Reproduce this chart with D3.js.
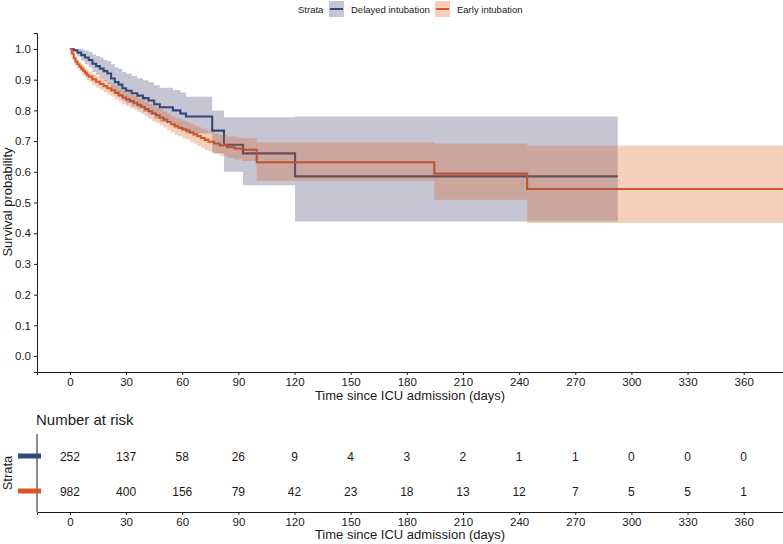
<!DOCTYPE html>
<html>
<head>
<meta charset="utf-8">
<script src="https://cdn.jsdelivr.net/npm/d3@7"></script>
<style>
  body { margin: 0; background: #fff; }
  svg text { font-family: "Liberation Sans", Arial, sans-serif; fill: #1a1a1a; }
</style>
</head>
<body>
<script>
// chart size
const W = 783, H = 544;

// strata
const strata = ['Delayed intubation', 'Early intubation'];
const lineColors = ['#2E4B7B', '#DF5228'];
const fillColors = ['#3E3E6C', '#DA5F20'];

// Kaplan-Meier step data, delayed intubation
const delayedTime = [0, 2, 4, 6, 8, 10, 12, 14, 16, 18, 20, 22, 24, 26, 28, 30, 33, 36, 39, 42, 45, 48, 55, 59, 62, 76, 82.3, 92.5, 120.3, 292.7];
const delayedSurv = [1.000, 0.996, 0.988, 0.980, 0.972, 0.964, 0.952, 0.944, 0.936, 0.928, 0.920, 0.904, 0.892, 0.884, 0.872, 0.864, 0.856, 0.848, 0.840, 0.832, 0.820, 0.810, 0.800, 0.790, 0.780, 0.734, 0.688, 0.660, 0.585, 0.585];
const delayedUpper = [1.000, 1.000, 1.000, 0.998, 0.995, 0.990, 0.982, 0.977, 0.972, 0.965, 0.960, 0.950, 0.940, 0.935, 0.925, 0.920, 0.912, 0.905, 0.898, 0.892, 0.882, 0.874, 0.866, 0.858, 0.844, 0.800, 0.778, 0.778, 0.780, 0.780];
const delayedLower = [1.000, 0.990, 0.975, 0.962, 0.950, 0.940, 0.925, 0.915, 0.905, 0.895, 0.885, 0.868, 0.855, 0.845, 0.832, 0.823, 0.813, 0.805, 0.795, 0.786, 0.772, 0.762, 0.750, 0.738, 0.725, 0.660, 0.600, 0.556, 0.438, 0.438];

// Kaplan-Meier step data, early intubation
const earlyTime = [0, 1, 2, 3, 4, 5, 6, 7, 8, 9, 10, 12, 14, 16, 18, 20, 22, 24, 26, 28, 30, 32, 34, 36, 38, 40, 42, 44, 46, 48, 50, 52, 54, 56, 58, 60, 62, 64, 66, 68, 70, 72, 74, 77, 80, 84, 88, 92, 99.8, 194.7, 244.3, 381];
const earlySurv = [1.000, 0.985, 0.970, 0.958, 0.950, 0.943, 0.936, 0.929, 0.922, 0.915, 0.910, 0.901, 0.893, 0.886, 0.879, 0.872, 0.865, 0.857, 0.849, 0.842, 0.836, 0.830, 0.825, 0.818, 0.812, 0.804, 0.797, 0.790, 0.784, 0.777, 0.770, 0.762, 0.755, 0.748, 0.743, 0.738, 0.734, 0.728, 0.722, 0.716, 0.710, 0.704, 0.698, 0.692, 0.686, 0.680, 0.676, 0.672, 0.631, 0.594, 0.544, 0.544];
const earlyUpper = [1.000, 0.993, 0.981, 0.970, 0.963, 0.957, 0.951, 0.945, 0.938, 0.932, 0.927, 0.919, 0.912, 0.905, 0.899, 0.892, 0.885, 0.878, 0.870, 0.864, 0.858, 0.852, 0.848, 0.841, 0.836, 0.828, 0.821, 0.815, 0.809, 0.803, 0.796, 0.789, 0.782, 0.776, 0.771, 0.767, 0.763, 0.758, 0.752, 0.747, 0.741, 0.736, 0.730, 0.725, 0.720, 0.715, 0.712, 0.709, 0.696, 0.692, 0.685, 0.685];
const earlyLower = [1.000, 0.977, 0.959, 0.946, 0.937, 0.929, 0.921, 0.913, 0.906, 0.898, 0.893, 0.883, 0.874, 0.867, 0.859, 0.852, 0.845, 0.836, 0.828, 0.820, 0.814, 0.808, 0.802, 0.795, 0.788, 0.780, 0.773, 0.765, 0.759, 0.751, 0.744, 0.735, 0.728, 0.720, 0.715, 0.709, 0.705, 0.698, 0.692, 0.685, 0.679, 0.672, 0.666, 0.659, 0.652, 0.645, 0.640, 0.635, 0.571, 0.509, 0.433, 0.433];

// axis ticks
const xTicks = [0, 30, 60, 90, 120, 150, 180, 210, 240, 270, 300, 330, 360];
const yTicks = [0.0, 0.1, 0.2, 0.3, 0.4, 0.5, 0.6, 0.7, 0.8, 0.9, 1.0];

// number at risk
const riskDelayed = [252, 137, 58, 26, 9, 4, 3, 2, 1, 1, 0, 0, 0];
const riskEarly = [982, 400, 156, 79, 42, 23, 18, 13, 12, 7, 5, 5, 1];

const svg = d3.select('body').append('svg')
  .attr('width', W)
  .attr('height', H);

// scales
const x = d3.scaleLinear().domain([-17.6, 381]).range([37, 783]);
const y = d3.scaleLinear().domain([-0.052, 1.052]).range([372, 33]);

function rows(t, s, u, l) {
  return t.map((d, i) => ({ t: d, s: s[i], u: u[i], l: l[i] }));
}
const groups = [
  rows(delayedTime, delayedSurv, delayedUpper, delayedLower),
  rows(earlyTime, earlySurv, earlyUpper, earlyLower)
];

const plot = svg.append('g');

// survival lines first, ribbons drawn on top (as in survminer)
const line = d3.line().x(d => x(d.t)).y(d => y(d.s)).curve(d3.curveStepAfter);
const area = d3.area().x(d => x(d.t)).y0(d => y(d.l)).y1(d => y(d.u)).curve(d3.curveStepAfter);

groups.forEach((g, i) => {
  plot.append('path')
    .attr('d', line(g))
    .attr('fill', 'none')
    .attr('stroke', lineColors[i])
    .attr('stroke-width', 2.1);
});
groups.forEach((g, i) => {
  plot.append('path')
    .attr('d', area(g))
    .attr('fill', fillColors[i])
    .attr('fill-opacity', 0.3);
});

// axes
const yAxis = svg.append('g')
  .attr('transform', 'translate(37,0)')
  .call(d3.axisLeft(y).tickValues(yTicks).tickFormat(d3.format('.1f')).tickSize(3).tickPadding(3));
const xAxis = svg.append('g')
  .attr('transform', 'translate(0,372)')
  .call(d3.axisBottom(x).tickValues(xTicks).tickSize(3).tickPadding(3));

[yAxis, xAxis].forEach(a => {
  a.select('.domain').attr('stroke', '#1a1a1a').attr('stroke-width', 1);
  a.selectAll('.tick line').attr('stroke', '#1a1a1a');
  a.selectAll('.tick text').attr('font-size', 11.5).attr('fill', '#1a1a1a');
});

svg.append('text')
  .attr('x', 410).attr('y', 400)
  .attr('text-anchor', 'middle')
  .attr('font-size', 13)
  .text('Time since ICU admission (days)');

svg.append('text')
  .attr('transform', 'translate(12,202) rotate(-90)')
  .attr('text-anchor', 'middle')
  .attr('font-size', 13)
  .text('Survival probability');

// legend
const legend = svg.append('g');
legend.append('text')
  .attr('x', 298).attr('y', 12.5)
  .attr('font-size', 9.5)
  .text('Strata');
const keyX = [329, 435];
const labX = [351, 457];
strata.forEach((s, i) => {
  legend.append('rect')
    .attr('x', keyX[i]).attr('y', 1)
    .attr('width', 15).attr('height', 16)
    .attr('fill', fillColors[i]).attr('fill-opacity', 0.3);
  legend.append('line')
    .attr('x1', keyX[i] + 1).attr('x2', keyX[i] + 14)
    .attr('y1', 9).attr('y2', 9)
    .attr('stroke', lineColors[i]).attr('stroke-width', 2);
  legend.append('text')
    .attr('x', labX[i]).attr('y', 12.5)
    .attr('font-size', 9.5)
    .text(s);
});

// number at risk table
svg.append('text')
  .attr('x', 36).attr('y', 425)
  .attr('font-size', 15)
  .text('Number at risk');

const rowY = [456, 491];
const risk = [riskDelayed, riskEarly];

const tbl = svg.append('g');
tbl.append('line')
  .attr('x1', 37).attr('x2', 37)
  .attr('y1', 434).attr('y2', 512)
  .attr('stroke', '#1a1a1a');

risk.forEach((r, i) => {
  tbl.append('rect')
    .attr('x', 18).attr('y', rowY[i] - 2.5)
    .attr('width', 23).attr('height', 5)
    .attr('fill', lineColors[i]);
  tbl.selectAll(null)
    .data(r)
    .enter()
    .append('text')
    .attr('x', (d, j) => x(xTicks[j]))
    .attr('y', rowY[i] + 4.5)
    .attr('text-anchor', 'middle')
    .attr('font-size', 12)
    .text(d => d);
});

const xAxis2 = svg.append('g')
  .attr('transform', 'translate(0,512)')
  .call(d3.axisBottom(x).tickValues(xTicks).tickSize(3).tickPadding(3));
xAxis2.select('.domain').attr('stroke', '#1a1a1a');
xAxis2.selectAll('.tick line').attr('stroke', '#1a1a1a');
xAxis2.selectAll('.tick text').attr('font-size', 11.5).attr('fill', '#1a1a1a');

svg.append('text')
  .attr('transform', 'translate(12,473) rotate(-90)')
  .attr('text-anchor', 'middle')
  .attr('font-size', 13)
  .text('Strata');

svg.append('text')
  .attr('x', 410).attr('y', 539)
  .attr('text-anchor', 'middle')
  .attr('font-size', 13)
  .text('Time since ICU admission (days)');
</script>
</body>
</html>
